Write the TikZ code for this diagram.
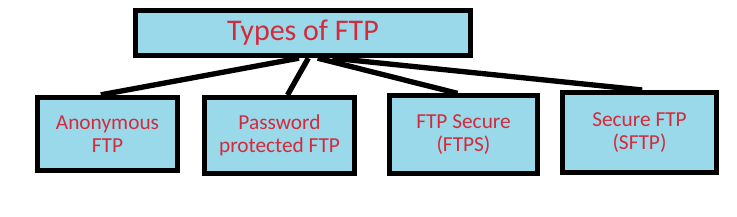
\documentclass[tikz,border=0pt]{standalone}
\usepackage{fontspec}
\setmainfont{Carlito}
\usepackage{tikz}
\usetikzlibrary{positioning}
\definecolor{boxfill}{HTML}{99D9EA}
\definecolor{labelred}{HTML}{D42A3C}

\begin{document}
\begin{tikzpicture}[x=0.75pt, y=-0.75pt,
    every node/.style={align=center, inner sep=0pt},
    typebox/.style={draw, line width=3.75pt, fill=boxfill, text=labelred,
      font=\fontsize{16}{17.5}\selectfont}]
\useasboundingbox (0,0) rectangle (737,217);
% Top: title box
\node[typebox, minimum width=251pt, minimum height=34pt,
  font=\fontsize{22.5}{24}\selectfont] (types) at (303,33) {Types of FTP};
% Bottom row: the four kinds
\node[typebox, minimum width=105pt, minimum height=55pt] (anon) at (107.5,134) {Anonymous\\FTP};
\node[typebox, minimum width=112pt, minimum height=57pt] (pwd) at (279.5,135.5) {Password\\protected FTP};
\node[typebox, minimum width=111pt, minimum height=58pt] (ftps) at (463.5,134.5) {FTP Secure\\(FTPS)};
\node[typebox, minimum width=115pt, minimum height=60pt] (sftp) at (639.5,132.5) {Secure FTP\\(SFTP)};
% Links
\draw[black, line width=4pt] ([xshift=-3pt]types.south) -- ([xshift=-5pt]anon.north);
\draw[black, line width=4pt] ([xshift=4pt]types.south) -- ([xshift=6pt]pwd.north);
\draw[black, line width=4pt] ([xshift=11pt]types.south) -- ([xshift=-4.5pt]ftps.north);
\draw[black, line width=4pt] ([xshift=22pt]types.south) -- ([xshift=2pt]sftp.north);
\end{tikzpicture}
\end{document}
